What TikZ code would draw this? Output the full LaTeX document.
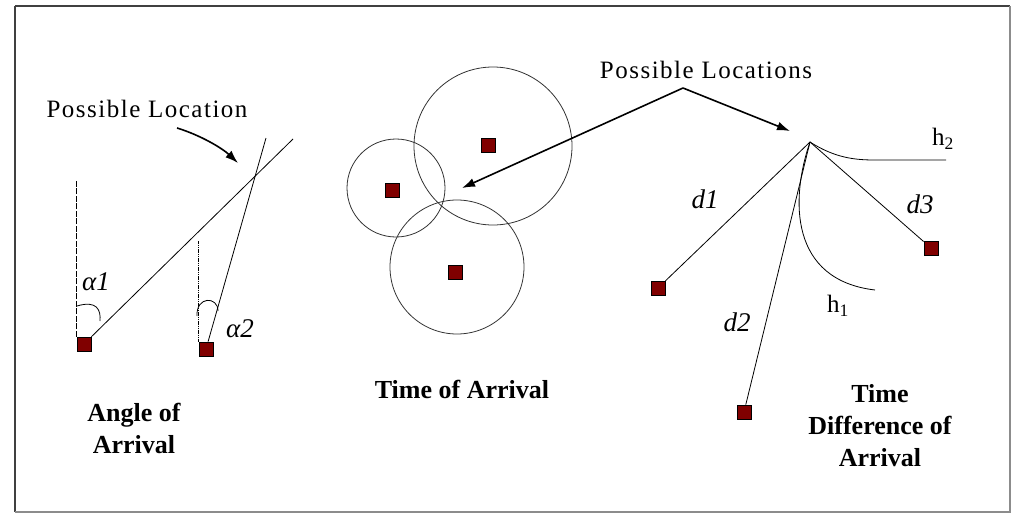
\documentclass[tikz,border=0pt]{standalone}
\usepackage{fontspec}
\setmainfont{Liberation Serif}
\usetikzlibrary{arrows.meta}

\begin{document}
\begin{tikzpicture}[x=1pt,y=-1pt]
\tikzstyle{sensor}=[rectangle,draw=black,fill=red!50!black,minimum size=14pt,inner sep=0pt,line width=0.8pt]
\tikzstyle{lbl}=[font=\fontsize{27}{32}\selectfont\itshape]
\tikzstyle{hyp}=[font=\fontsize{25}{30}\selectfont]
\tikzstyle{note}=[font=\fontsize{25}{30}\selectfont\addfontfeatures{LetterSpace=6}]
\tikzstyle{title}=[font=\fontsize{26}{32}\selectfont\bfseries,align=center]
\tikzstyle{arr}=[line width=1.6pt,-{Latex[length=13pt,width=9pt]}]
\useasboundingbox (0,0) rectangle (1013,514);
\draw[line width=2.5pt,black!75] (15,6) -- (1010,6);
\draw[line width=2.5pt,black!75] (15,6) -- (15,512);
\draw[line width=1.2pt,black!45] (1010,6) -- (1010,512) -- (15,512);

% angle of arrival
\node[sensor] (s1) at (84,344) {};
\node[sensor] (s2) at (206,349) {};
\coordinate (e1) at (293,139);
\coordinate (e2) at (266,138);
\coordinate (x1) at (238,163);
\draw[line width=0.8pt,dash pattern=on 6pt off 1.5pt] (s1.north west) -- ++(0,-157);
\draw[line width=1.2pt,dash pattern=on 1.2pt off 0.6pt] (s2.north west) -- ++(0,-101);
\draw[line width=0.8pt] (s1) -- (e1);
\draw[line width=0.8pt] (s2) -- (e2);
\draw[line width=0.8pt] (77,306) .. controls (97,300) and (101,310) .. (100,321);
\draw[line width=0.8pt] (197,316) .. controls (196,296) and (218,296) .. (218,311);
\node[lbl] (a1) at (96,282) {α1};
\node[lbl] (a2) at (240,329) {α2};
\node[note] (loc1) at (147,109) {Possible Location};
\draw[arr] (177,128) .. controls (200,135) and (222,148) .. (x1);
\node[title] (aoa) at (134,428) {Angle of\\Arrival};

% time of arrival
\node[sensor] (t1) at (488,145) {};
\node[sensor] (t2) at (392,190) {};
\node[sensor] (t3) at (455,272) {};
\draw[line width=0.8pt,black!80] (493,146) circle [radius=79pt];
\draw[line width=0.8pt,black!80] (396,188) circle [radius=49pt];
\draw[line width=0.8pt,black!80] (457,267) circle [radius=67pt];
\coordinate (tx) at (462,188);
\node[title] (toa) at (462,389) {Time of Arrival};

% possible locations
\node[note] (loc2) at (706,70) {Possible Locations};
\coordinate (pk) at (683,88);
\coordinate (dx) at (790,131);
\draw[arr] (pk) -- (tx);
\draw[arr] (pk) -- (dx);

% time difference of arrival
\coordinate (ap) at (810,142);
\node[sensor] (r1) at (658,288) {};
\node[sensor] (r2) at (744,412) {};
\node[sensor] (r3) at (931,248) {};
\draw[line width=0.8pt] (ap) -- (r1);
\draw[line width=0.8pt] (ap) -- (r2);
\draw[line width=0.8pt] (ap) -- (r3);
\draw[line width=0.8pt] (ap) .. controls (835,158) and (855,160) .. (875,160) -- (946,160);
\draw[line width=0.8pt] (ap) .. controls (790,200) and (790,280) .. (875,290);
\node[lbl] (l1) at (705,199) {d1};
\node[lbl] (l2) at (737,322) {d2};
\node[lbl] (l3) at (920,204) {d3};
\node[hyp] (h1) at (838,306) {h\textsubscript{1}};
\node[hyp] (h2) at (943,139) {h\textsubscript{2}};
\node[title] (tdoa) at (880,426) {Time\\Difference of\\Arrival};

\end{tikzpicture}
\end{document}
